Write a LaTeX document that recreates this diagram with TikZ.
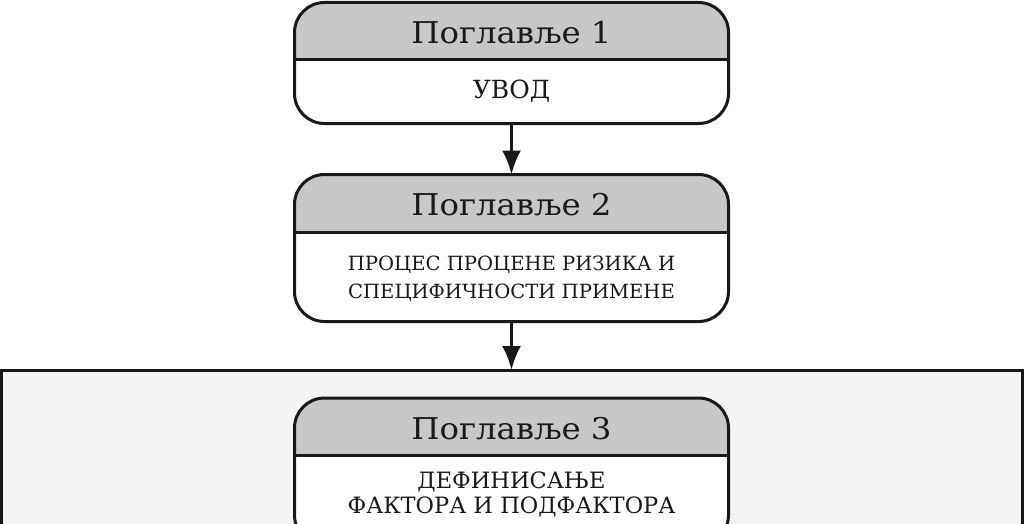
\documentclass[tikz,border=0pt]{standalone}
\usepackage{fontspec}
\setmainfont{DejaVu Serif}
\newfontfamily\hdrfont[FakeStretch=1.08]{DejaVu Serif}
\usetikzlibrary{arrows.meta}
\definecolor{hdr}{gray}{0.78}
\definecolor{panelfill}{gray}{0.957}
\definecolor{ink}{gray}{0.1}
\tikzset{
  chap/.style={draw=ink, fill=white, line width=3pt, rounded corners=30pt,
    minimum width=434pt, inner sep=0pt, outer sep=0pt,
    path picture={
      \fill[hdr, sharp corners] (path picture bounding box.north west) rectangle ([yshift=-57.5pt]path picture bounding box.north east);
      \draw[ink, line width=3pt, sharp corners] ([yshift=-57.5pt]path picture bounding box.north west) -- ([yshift=-57.5pt]path picture bounding box.north east);
    }},
  panelbox/.style={draw=ink, fill=panelfill, line width=3pt, inner sep=0pt, outer sep=0pt},
  hdrtext/.style={anchor=base, inner sep=0pt, text=ink, font=\hdrfont\fontsize{30}{34}\selectfont},
  bodytext/.style={inner sep=0pt, text=ink, align=center},
  flow/.style={draw=ink, line width=3pt, -{Latex[length=24pt,width=19pt]}}
}
\begin{document}
\begin{tikzpicture}[x=1pt,y=-1pt]
\useasboundingbox (0,0) rectangle (1024,524);
\clip (0,0) rectangle (1024,524);
% outer panel
\node[panelbox, minimum width=1021pt, minimum height=280pt, anchor=north] (panel) at (512,370) {};
% chapter boxes
\node[chap, minimum height=121pt, anchor=north] (c1) at (511.5,2.5) {};
\node[chap, minimum height=147pt, anchor=north] (c2) at (511.5,174.5) {};
\node[chap, minimum height=147pt, anchor=north] (c3) at (511.5,398) {};
% header texts
\node[hdrtext] (h1) at (511.5,43.5) {Поглавље 1};
\node[hdrtext] (h2) at (511.5,215.5) {Поглавље 2};
\node[hdrtext] (h3) at (511.5,439.5) {Поглавље 3};
% body texts
\node[bodytext, font=\fontsize{25}{30}\selectfont] (t1) at (511.5,91) {УВОД};
\node[bodytext, font=\fontsize{19.6}{28}\selectfont] (t2) at (511.5,279) {ПРОЦЕС ПРОЦЕНЕ РИЗИКА И\\СПЕЦИФИЧНОСТИ ПРИМЕНЕ};
\node[bodytext, font=\fontsize{22.5}{25}\selectfont] (t3) at (511.5,494) {ДЕФИНИСАЊЕ\\ФАКТОРА И ПОДФАКТОРА};
% connectors
\draw[flow] (c1.south) -- (c2.north);
\draw[flow] (c2.south) -- (c2.south |- panel.north);
\end{tikzpicture}
\end{document}
